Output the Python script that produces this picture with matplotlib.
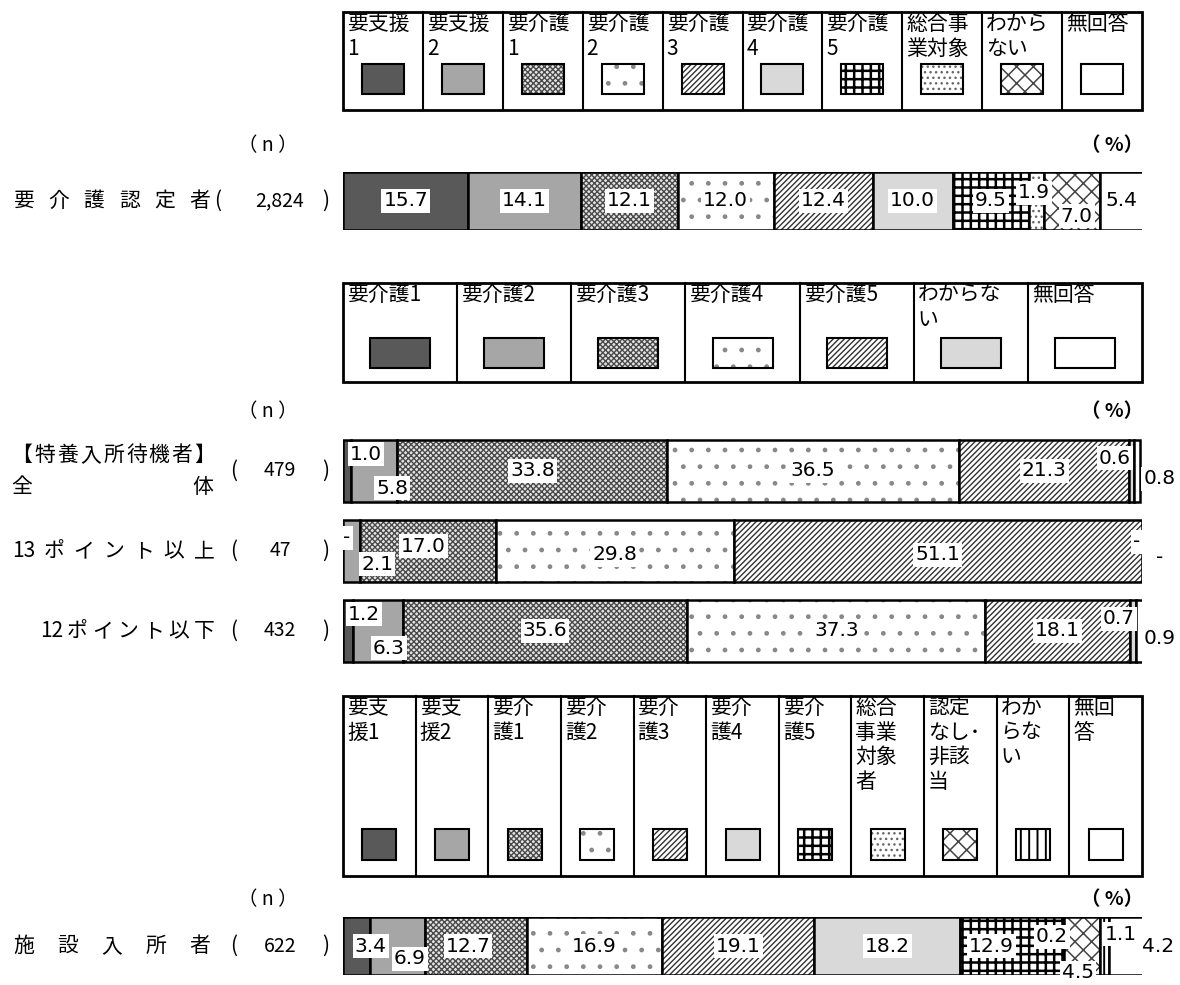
import matplotlib
matplotlib.use("Agg")
import matplotlib.pyplot as plt
from matplotlib.patches import Rectangle

plt.rcParams['font.family'] = ['Noto Sans CJK JP', 'DejaVu Sans']
plt.rcParams['hatch.linewidth'] = 1.0

W, H = 1180, 985
X0, XW = 343, 799  # bar / legend area in pixels

# fill styles: facecolor, hatch, hatch colour, hatch linewidth
STYLE = {
    'dark': ('#595959', None, None, 1.0),
    'gray': ('#a6a6a6', None, None, 1.0),
    'cross': ('#e6e6e6', 'xxxxxx', '#4a4a4a', 1.0),
    'dots': ('#ffffff', '.', '#888888', 1.0),
    'diag': ('#ffffff', '//////', '#333333', 1.0),
    'light': ('#d9d9d9', None, None, 1.0),
    'grid': ('#ffffff', '++', '#000000', 1.8),
    'fine': ('#ffffff', '...', '#666666', 1.0),
    'lattice': ('#ffffff', 'xx', '#444444', 1.1),
    'vert': ('#ffffff', '||', '#000000', 1.4),
    'white': ('#ffffff', None, None, 1.0),
}

# ---- group 1 : 要介護認定者
g1_legend = ["要支援\n1", "要支援\n2", "要介護\n1", "要介護\n2", "要介護\n3",
             "要介護\n4", "要介護\n5", "総合事\n業対象", "わから\nない", "無回答"]
g1_styles = ['dark', 'gray', 'cross', 'dots', 'diag', 'light', 'grid', 'fine', 'lattice', 'white']
g1_rows = [["要", "介", "護", "認", "定", "者"]]
g1_n = ["2,824"]
g1_values = [[15.7, 14.1, 12.1, 12.0, 12.4, 10.0, 9.5, 1.9, 7.0, 5.4]]
g1_offsets = [[(0, 0)] * 7 + [(-2, -8), (5, 15), (0, 0)]]

# ---- group 2 : 特養入所待機者
g2_legend = ["要介護1", "要介護2", "要介護3", "要介護4", "要介護5", "わからな\nい", "無回答"]
g2_styles = ['dark', 'gray', 'cross', 'dots', 'diag', 'light', 'white']
g2_rows = [None,
           ["13", "ポ", "イ", "ン", "ト", "以", "上"],
           ["12", "ポ", "イ", "ン", "ト", "以", "下"]]
g2_n = ["479", "47", "432"]
g2_values = [[1.0, 5.8, 33.8, 36.5, 21.3, 0.6, 0.8],
             [0.0, 2.1, 17.0, 29.8, 51.1, 0.0, 0.0],
             [1.2, 6.3, 35.6, 37.3, 18.1, 0.7, 0.9]]
g2_offsets = [[(19, -17), (18, 17), (0, 0), (0, 0), (0, 0), (-17, -13), (22, 8)],
              [(4, -13), (26, 13), (-4, -5), (0, 4), (0, 4), (-5, -9), (18, 7)],
              [(16, -17), (11, 17), (0, 0), (0, 0), (0, 0), (-14, -12), (20, 8)]]

# ---- group 3 : 施設入所者
g3_legend = ["要支\n援1", "要支\n援2", "要介\n護1", "要介\n護2", "要介\n護3", "要介\n護4",
             "要介\n護5", "総合\n事業\n対象\n者", "認定\nなし･\n非該\n当", "わか\nらな\nい", "無回\n答"]
g3_styles = ['dark', 'gray', 'cross', 'dots', 'diag', 'light', 'grid', 'fine', 'lattice', 'vert', 'white']
g3_rows = [["施", "設", "入", "所", "者"]]
g3_n = ["622"]
g3_values = [[3.4, 6.9, 12.7, 16.9, 19.1, 18.2, 12.9, 0.2, 4.5, 1.1, 4.2]]
g3_offsets = [[(14, 0), (12, 13), (-8, 0), (0, 0), (0, 0), (0, 0), (-20, 0),
               (-12, -9), (-4, 27), (16, -12), (32, 0)]]

fig = plt.figure(figsize=(W / 100, H / 100), dpi=100)
ov = fig.add_axes([0, 0, 1, 1])
ov.set_xlim(0, W)
ov.set_ylim(H, 0)
ov.axis('off')


def swatch(ax, x, y, w, h, st, lw=1.5):
    fc, hatch, hc, hlw = STYLE[st]
    with plt.rc_context({'hatch.linewidth': hlw}):
        ax.add_patch(Rectangle((x, y), w, h, facecolor=fc, hatch=hatch, edgecolor=hc or fc, lw=0))
    ax.add_patch(Rectangle((x, y), w, h, fill=False, edgecolor='black', lw=lw))


def draw_legend(labels, styles, top, bottom, sw_top, sw_w, sw_h):
    n = len(labels)
    cw = XW / n
    ov.add_patch(Rectangle((X0, top), XW, bottom - top, fill=False, lw=2, ec='black'))
    for k in range(1, n):
        ov.plot([X0 + k * cw] * 2, [top, bottom], color='black', lw=1.5)
    for k, (lab, st) in enumerate(zip(labels, styles)):
        x = X0 + k * cw
        ov.text(x + 4, top + 1, lab, ha='left', va='top', fontsize=15, linespacing=1.15)
        swatch(ov, x + (cw - sw_w) / 2, sw_top, sw_w, sw_h, st)


def spread(tokens, x0, x1, y, size=15):
    n = len(tokens)
    c0, c1 = x0 + 10, x1 - 10
    for i, t in enumerate(tokens):
        cx = c0 + (c1 - c0) * i / (n - 1) if n > 1 else (c0 + c1) / 2
        ov.text(cx, y, t, ha='center', va='center', fontsize=size)


def row_n(y, n, px=230):
    ov.text(px, y, "(", ha='left', va='center', fontsize=15)
    ov.text(280, y, n, ha='center', va='center', fontsize=14)
    ov.text(326, y, ")", ha='center', va='center', fontsize=15)


def unit_row(y):
    ov.text(268, y, "（ n ）", ha='center', va='center', fontsize=14)
    ov.text(1112, y, "（ %）", ha='center', va='center', fontsize=14, fontweight='bold')


def draw_bars(top, row_h, bar_h, values, styles, offsets):
    nrows = len(values)
    ax = fig.add_axes([X0 / W, 1 - (top + nrows * row_h) / H, XW / W, nrows * row_h / H])
    ax.set_xlim(0, 100)
    ax.set_ylim(nrows - 0.5, -0.5)
    ax.axis('off')
    h = bar_h / row_h
    for i, vals in enumerate(values):
        left = 0.0
        for v, st, (dx, dy) in zip(vals, styles, offsets[i]):
            fc, hatch, hc, hlw = STYLE[st]
            if v > 0:
                with plt.rc_context({'hatch.linewidth': hlw}):
                    ax.barh(i, v, left=left, height=h, color=fc, hatch=hatch,
                            edgecolor=hc or fc, linewidth=0)
                ax.barh(i, v, left=left, height=h, fill=False, edgecolor='black', linewidth=1.8)
            lab = f"{v:.1f}" if v > 0 else "-"
            ax.annotate(lab, (left + v / 2, i), xytext=(dx * 0.72, -dy * 0.72),
                        textcoords='offset points', ha='center', va='center',
                        fontsize=14.5, family='DejaVu Sans', annotation_clip=False,
                        bbox=dict(boxstyle='square,pad=0.1', fc='white', ec='none'))
            left += v
    return ax


# group 1
draw_legend(g1_legend, g1_styles, 12, 110, 64, 42, 30)
unit_row(146)
draw_bars(172, 58, 58, g1_values, g1_styles, g1_offsets)
spread(g1_rows[0], 13, 210, 201)
row_n(201, g1_n[0], px=214)

# group 2
draw_legend(g2_legend, g2_styles, 283, 382, 338, 60, 30)
unit_row(412)
draw_bars(431, 80, 62, g2_values, g2_styles, g2_offsets)
spread(list("【特養入所待機者】"), 12, 215, 455)
spread(["全", "体"], 12, 213, 487)
for i in range(1, 3):
    x_start = 14 if i == 1 else 42
    spread(g2_rows[i], x_start, 214, 471 + 80 * i)
for i, n in enumerate(g2_n):
    row_n(471 + 80 * i, n)

# group 3
draw_legend(g3_legend, g3_styles, 696, 876, 829, 34, 31)
unit_row(900)
draw_bars(917, 58, 58, g3_values, g3_styles, g3_offsets)
spread(g3_rows[0], 14, 210, 946)
row_n(946, g3_n[0])

fig.savefig("out.png", dpi=100)
